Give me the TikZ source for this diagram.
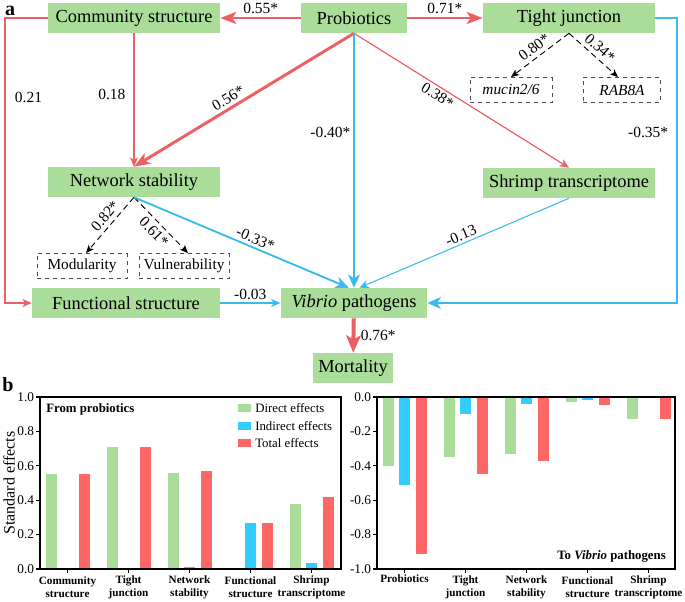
\documentclass[tikz,border=0pt]{standalone}
\usepackage{fontspec}
\setmainfont{Liberation Serif}
\usetikzlibrary{positioning}
\usetikzlibrary{arrows.meta}
\definecolor{boxgreen}{RGB}{170,221,153}
\definecolor{redline}{RGB}{236,96,100}
\definecolor{blueline}{RGB}{56,188,240}
\definecolor{barblue}{RGB}{51,204,255}
\definecolor{barred}{RGB}{255,102,102}
\tikzset{
  varbox/.style={fill=boxgreen, minimum height=22.5pt, inner sep=0pt, font=\fontsize{13.8}{15}\selectfont},
  subbox/.style={draw=black!70, dashed, minimum height=19pt, inner sep=0pt, font=\fontsize{11.5}{13}\selectfont},
  coef/.style={font=\fontsize{11.6}{13}\selectfont, inner sep=2pt, text=black},
  redthick/.style={draw=redline, line width=2.2pt, -{Stealth[length=12pt,width=9pt,inset=3pt]}},
  redthin/.style={draw=redline, line width=0.9pt, -{Stealth[length=7pt,width=6pt,inset=2pt]}},
  bluemid/.style={draw=blueline, line width=1.4pt, -{Stealth[length=10pt,width=9pt,inset=3pt]}},
  bluethin/.style={draw=blueline, line width=0.8pt, -{Stealth[length=7pt,width=6pt,inset=2pt]}},
  dasharrow/.style={draw=black, dash pattern=on 4.5pt off 3pt, line width=0.7pt, -{Stealth[length=6pt,width=5pt,inset=1.5pt]}},
  ticklab/.style={font=\fontsize{10}{12}\selectfont, inner sep=1pt},
  catlab/.style={font=\bfseries\fontsize{8.4}{9.8}\selectfont, align=center, inner sep=0pt},
  leglab/.style={font=\fontsize{9.6}{11}\selectfont, inner sep=0pt, anchor=west},
}
\begin{document}
\begin{tikzpicture}[x=0.75pt,y=-0.75pt]
  \useasboundingbox (0,0) rectangle (685,601);
  % panel labels
  \node[font=\bfseries\fontsize{15}{15}\selectfont, inner sep=0pt] (pa) at (10,11) {a};
  \node[font=\bfseries\fontsize{15}{15}\selectfont, inner sep=0pt] (pb) at (8,385) {b};
  % path model boxes
  \node[varbox, minimum width=129pt] (com) at (134,18) {Community structure};
  \node[varbox, minimum width=79pt] (pro) at (354,18) {Probiotics};
  \node[varbox, minimum width=129pt] (tj) at (569,18) {Tight junction};
  \node[subbox, minimum width=61.5pt] (muc) at (511,90) {\textit{mucin2/6}};
  \node[subbox, minimum width=58pt] (rab) at (622,90) {\textit{RAB8A}};
  \node[varbox, minimum width=129pt] (net) at (134,182) {Network stability};
  \node[varbox, minimum width=129pt] (shr) at (569,183) {Shrimp transcriptome};
  \node[subbox, minimum width=67.5pt] (mod) at (82,266) {Modularity};
  \node[subbox, minimum width=67.5pt] (vul) at (184,266) {Vulnerability};
  \node[varbox, minimum width=141pt] (fun) at (126,303) {Functional structure};
  \node[varbox, minimum width=110pt] (vib) at (354,303) {\textit{Vibrio} pathogens};
  \node[varbox, minimum width=60pt] (mor) at (353,368) {Mortality};
  \coordinate (lft) at (5,18);
  \coordinate (rgt) at (677,18);
  % paths
  \draw[redthick] (pro) -- (com) node[coef, midway, above] {0.55*};
  \draw[redthick] (pro) -- (tj) node[coef, midway, above] {0.71*};
  \draw[redthick] (pro.south) -- (net.north) node[coef, pos=0.55, sloped, above] {0.56*};
  \draw[redthin] (pro.south) -- (shr.north) node[coef, pos=0.41, sloped, below] {0.38*};
  \draw[bluemid] (pro.south) -- (vib.north) node[coef, pos=0.39, left] {-0.40*};
  \draw[redthin] (com.south) -- (net.north) node[coef, pos=0.46, left=4pt] {0.18};
  \draw[redthin] (com.west) -- (lft) |- (fun.west) node[coef, pos=0.14, right=5pt] {0.21};
  \draw[bluemid] (tj.east) -- (rgt) |- (vib.east) node[coef, pos=0.2, left=4pt] {-0.35*};
  \draw[dasharrow] (tj.south) -- (muc.north) node[coef, midway, sloped, above=1pt] {0.80*};
  \draw[dasharrow] (tj.south) -- ([xshift=-3pt]rab.north) node[coef, midway, sloped, above=1pt] {0.34*};
  \draw[dasharrow] (net.south) -- ([xshift=3pt]mod.north) node[coef, pos=0.45, sloped, above=1pt] {0.82*};
  \draw[dasharrow] (net.south) -- ([xshift=3pt]vul.north) node[coef, pos=0.5, sloped, below=1pt] {0.61*};
  \draw[bluemid] (net.south) -- ([xshift=-4pt]vib.north) node[coef, pos=0.55, sloped, above] {-0.33*};
  \draw[bluethin] (shr.south) -- ([xshift=4pt]vib.north) node[coef, midway, sloped, above] {-0.13};
  \draw[bluethin] (fun) -- (vib) node[coef, midway, above] {-0.03};
  \draw[draw=redline, line width=3pt, -{Stealth[length=13pt,width=11pt,inset=3pt]}] (vib) -- (mor) node[coef, midway, right=2pt] {0.76*};
  % left bar chart: from probiotics
  \foreach \i/\d/\n/\t in {0/0.55/0/0.55, 1/0.71/0/0.71, 2/0.56/0.01/0.57, 3/0/0.27/0.27, 4/0.38/0.035/0.42} {
    \fill[boxgreen] ({40+27.5+61*\i-22},569) rectangle ++(11,{-172*\d});
    \fill[barblue] ({40+27.5+61*\i-5.5},569) rectangle ++(11,{-172*\n});
    \fill[barred] ({40+27.5+61*\i+11},569) rectangle ++(11,{-172*\t});
    \draw[line width=0.8pt] ({40+27.5+61*\i},569) -- ++(0,4);
  }
  \draw[line width=0.8pt] (40,397) rectangle (341,569);
  \foreach \v in {0.0,0.2,0.4,0.6,0.8,1.0} {
    \draw[line width=0.8pt] (40,{569-172*\v}) -- ++(-4,0) node[ticklab, left] {\v};
  }
  \foreach \i/\lab in {0/{Community\\structure}, 1/{Tight\\junction}, 2/{Network\\stability}, 3/{Functional\\structure}, 4/{Shrimp\\transcriptome}} {
    \node[catlab] (lc\i) at ({40+27.5+61*\i},587) {\lab};
  }
  \node[font=\fontsize{12}{13}\selectfont, rotate=90] (ylab) at (9,483) {Standard effects};
  \node[font=\bfseries\fontsize{9.6}{11}\selectfont, anchor=west, inner sep=0pt] (from) at (46,409) {From probiotics};
  % legend
  \fill[boxgreen] (238,404) rectangle (251,412);
  \fill[barblue] (238,422) rectangle (251,430);
  \fill[barred] (238,439) rectangle (251,447);
  \node[leglab] (l1) at (255,408) {Direct effects};
  \node[leglab] (l2) at (255,426) {Indirect effects};
  \node[leglab] (l3) at (255,443) {Total effects};
  % right bar chart: to vibrio
  \foreach \i/\d/\n/\t in {0/-0.40/-0.51/-0.91, 1/-0.35/-0.10/-0.45, 2/-0.33/-0.04/-0.37, 3/-0.03/-0.015/-0.045, 4/-0.13/0/-0.13} {
    \fill[boxgreen] ({377+27.5+61*\i-22},397) rectangle ++(11,{-172*\d});
    \fill[barblue] ({377+27.5+61*\i-5.5},397) rectangle ++(11,{-172*\n});
    \fill[barred] ({377+27.5+61*\i+11},397) rectangle ++(11,{-172*\t});
    \draw[line width=0.8pt] ({377+27.5+61*\i},569) -- ++(0,4);
  }
  \draw[line width=0.8pt] (377,397) rectangle (675,569);
  \foreach \v in {0.0,-0.2,-0.4,-0.6,-0.8,-1.0} {
    \draw[line width=0.8pt] (377,{397-172*\v}) -- ++(-4,0) node[ticklab, left] {\v};
  }
  \foreach \i/\lab in {0/{Probiotics\\\strut}, 1/{Tight\\junction}, 2/{Network\\stability}, 3/{Functional\\structure}, 4/{Shrimp\\transcriptome}} {
    \node[catlab] (rc\i) at ({377+27.5+61*\i},587) {\lab};
  }
  \node[font=\bfseries\fontsize{9.6}{11}\selectfont, anchor=east, inner sep=0pt] (to) at (666,556) {To \textit{Vibrio} pathogens};
\end{tikzpicture}
\end{document}
